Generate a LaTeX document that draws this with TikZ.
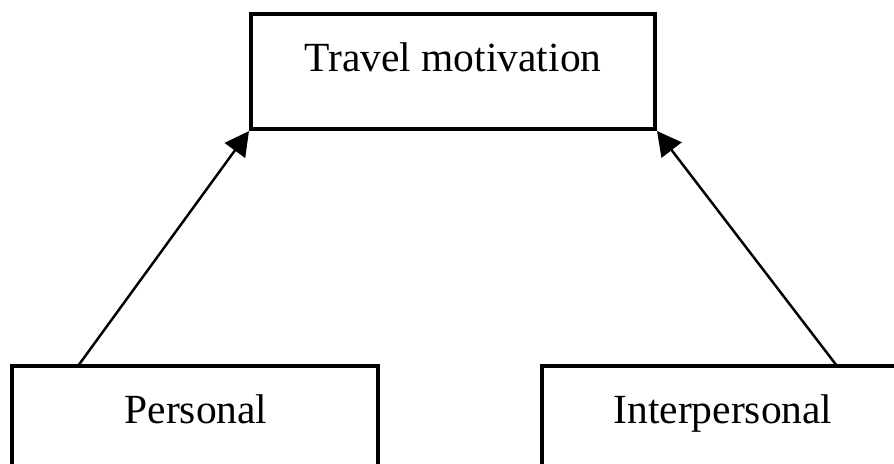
\documentclass[tikz,border=0pt]{standalone}
\usepackage{fontspec}
\setmainfont{Liberation Serif}
\usetikzlibrary{arrows.meta}
\begin{document}
\begin{tikzpicture}[x=0.01cm, y=-0.01cm,
  box/.style={draw, line width=1.15pt, minimum width=#1*0.01cm, minimum height=1.15cm, inner sep=0pt},
  lbl/.style={anchor=base, font=\fontsize{11.8}{14}\selectfont},
  link/.style={line width=0.7pt, -{Triangle[length=0.24cm, width=0.25cm]}}]
\useasboundingbox (0,0) rectangle (894,464);
\clip (0,0) rectangle (894,464);
% Boxes
\node[box=404] (travel) at (453,71.5) {};
\node[box=366] (personal) at (195,423.5) {};
\node[box=366] (inter) at (725,423.5) {};

% Labels
\node[lbl] (travellbl) at (453,72) {Travel motivation};
\node[lbl] (personallbl) at (196,423) {Personal};
\node[lbl] (interlbl) at (723,423) {Interpersonal};

% Arrows
\coordinate (pfoot) at (78,366);
\coordinate (ifoot) at (837,366);
\draw[link] (pfoot) -- (travel.south west);
\draw[link] (ifoot) -- (travel.south east);
\end{tikzpicture}
\end{document}
